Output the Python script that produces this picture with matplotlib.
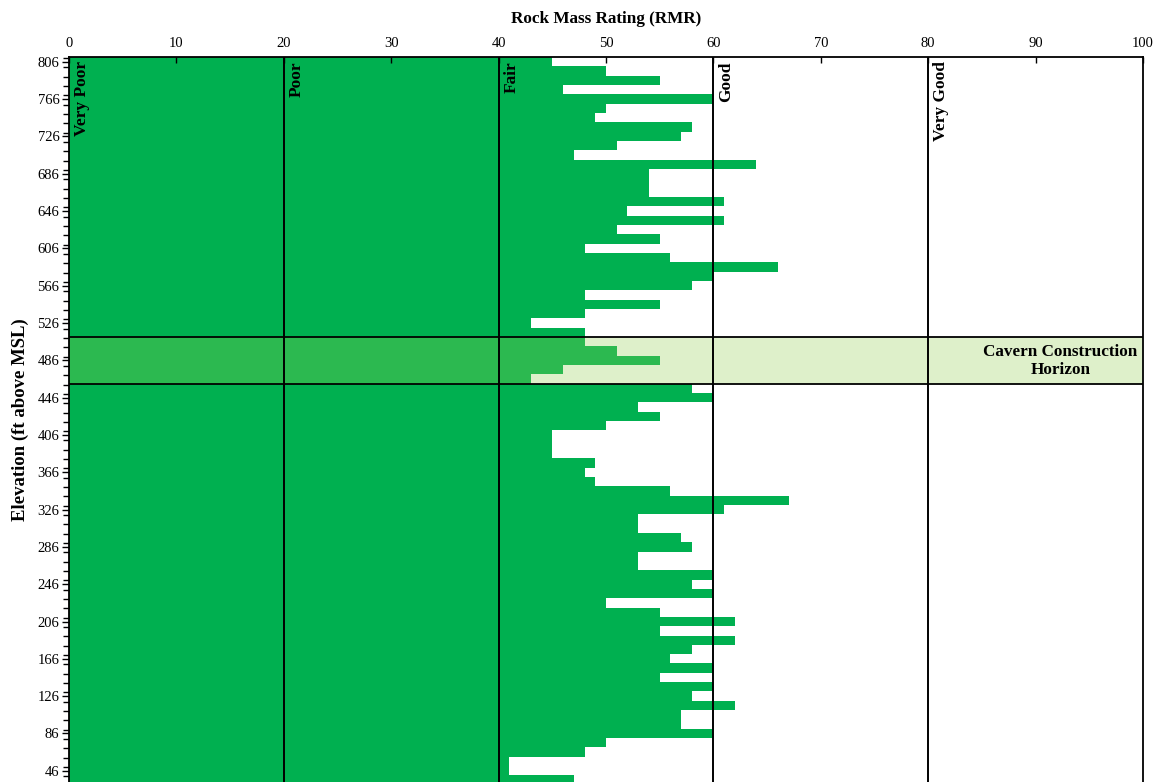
import matplotlib
matplotlib.use("Agg")
import matplotlib.pyplot as plt
from matplotlib.ticker import MultipleLocator, FixedLocator

# Elevation of each 10-ft interval (ft above MSL), top to bottom
elevation = [806, 796, 786, 776, 766, 756, 746, 736, 726, 716,
             706, 696, 686, 676, 666, 656, 646, 636, 626, 616,
             606, 596, 586, 576, 566, 556, 546, 536, 526, 516,
             506, 496, 486, 476, 466, 456, 446, 436, 426, 416,
             406, 396, 386, 376, 366, 356, 346, 336, 326, 316,
             306, 296, 286, 276, 266, 256, 246, 236, 226, 216,
             206, 196, 186, 176, 166, 156, 146, 136, 126, 116,
             106, 96, 86, 76, 66, 56, 46, 36]

# Rock Mass Rating for each interval
rmr = [45, 50, 55, 46, 60, 50, 49, 58, 57, 51,
       47, 64, 54, 54, 54, 61, 52, 61, 51, 55,
       48, 56, 66, 60, 58, 48, 55, 48, 43, 48,
       48, 51, 55, 46, 43, 58, 60, 53, 55, 50,
       45, 45, 45, 49, 48, 49, 56, 67, 61, 53,
       53, 57, 58, 53, 53, 60, 58, 60, 50, 55,
       62, 55, 62, 58, 56, 60, 55, 60, 58, 62,
       57, 57, 60, 50, 48, 41, 41, 47]

class_bounds = [0, 20, 40, 60, 80]
class_names = ["Very Poor", "Poor", "Fair", "Good", "Very Good"]

horizon_bottom, horizon_top = 461, 511
horizon_label = "Cavern Construction\nHorizon"

y_ticks = [806, 766, 726, 686, 646, 606, 566, 526, 486, 446,
           406, 366, 326, 286, 246, 206, 166, 126, 86, 46]
x_ticks = [0, 10, 20, 30, 40, 50, 60, 70, 80, 90, 100]

serif = ["Liberation Serif", "DejaVu Serif"]
plt.rcParams["font.family"] = serif

W, H = 1165, 782
fig = plt.figure(figsize=(W / 100, H / 100), dpi=100)
left, right, top = 69, 1143, 57
ax = fig.add_axes([left / W, 0, (right - left) / W, (H - top) / H])

ax.barh(elevation, rmr, height=10, color="#00B050", edgecolor="none", zorder=1)

ax.set_xlim(0, 100)
ax.set_ylim(34, 811)

# Rating class boundaries with rotated labels
for xb, name in zip(class_bounds, class_names):
    if xb > 0:
        ax.axvline(xb, color="black", lw=1.4, zorder=4)
    ax.text(xb + 0.45, 806.5, name, rotation=90, ha="left", va="top",
            fontsize=12.5, fontweight="bold", zorder=5)

# Cavern construction horizon band
ax.axhspan(horizon_bottom, horizon_top, color="#92D050", alpha=0.3,
           lw=0, zorder=2)
ax.axhline(horizon_bottom, color="black", lw=1.3, zorder=4)
ax.axhline(horizon_top, color="black", lw=1.3, zorder=4)
ax.text(99.5, 485.5, horizon_label, ha="right", va="center",
        multialignment="center", fontsize=12.3, fontweight="bold",
        linespacing=1.15, zorder=5)

# Axes styling
ax.xaxis.tick_top()
ax.xaxis.set_label_position("top")
ax.xaxis.set_major_locator(FixedLocator(x_ticks))
ax.set_xticklabels([str(v) for v in x_ticks])
ax.yaxis.set_major_locator(FixedLocator(y_ticks))
ax.set_yticklabels([str(v) for v in y_ticks])
ax.yaxis.set_minor_locator(MultipleLocator(10))
ax.tick_params(axis="x", direction="in", length=4, width=1, labelsize=10.5, pad=5)
ax.tick_params(axis="y", which="major", direction="out", length=5, width=1,
               labelsize=10.5, pad=2)
ax.tick_params(axis="y", which="minor", direction="out", length=4, width=1)

for s in ["top", "right", "left"]:
    ax.spines[s].set_color("black")
    ax.spines[s].set_linewidth(1.3)
ax.spines["bottom"].set_visible(False)
ax.spines["right"].set_zorder(6)

ax.set_xlabel("Rock Mass Rating (RMR)", fontsize=12.3, fontweight="bold",
              labelpad=10)
ax.set_ylabel("Elevation (ft above MSL)", fontsize=13.5, fontweight="bold",
              labelpad=6)

fig.savefig("out.png", dpi=100)
